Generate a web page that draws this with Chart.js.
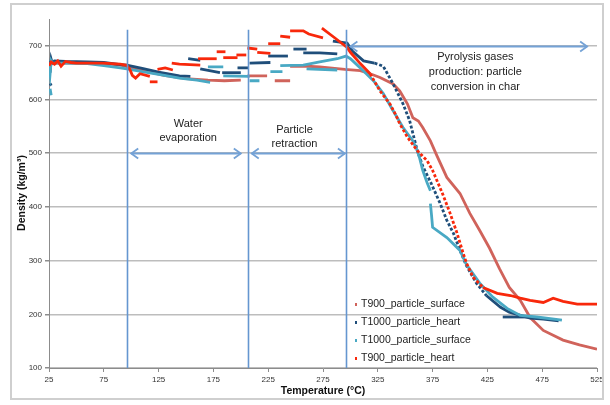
<!DOCTYPE html>
<html>
<head>
<meta charset="utf-8">
<script src="https://cdn.jsdelivr.net/npm/chart.js@4.4.1/dist/chart.umd.min.js"></script>
<style>
  html, body { margin: 0; padding: 0; background: #fff; }
  canvas { display: block; }
</style>
</head>
<body>
<canvas id="chart" width="610" height="405"></canvas>
<script>
// tick values
const xTicks = [25, 75, 125, 175, 225, 275, 325, 375, 425, 475, 525]
const yTicks = [100, 200, 300, 400, 500, 600, 700]

// null = break in the recorded trace
const t900SurfaceTemp = [25, 40, 60, 75, 90, 100, 115, 130, 150, 170, 185, 200, 203, 206, 215, 224, 228, 231, 245, 245, 245, 260, 272, 281, 295, 309, 318, 327, 339, 345, 352, 357, 362, 366, 373, 379, 388, 400, 409, 418, 427, 436, 445, 455, 464, 476, 485, 494, 509, 525]
const t900SurfaceRho = [668, 668, 668, 667, 664, 660, 652, 645, 639, 636, 635, 636, null, 644, 644, 644, null, 635, 635, null, 662, 662, 661, 659, 656, 654, 648, 641, 629, 616, 592, 566, 560, 548, 523, 495, 455, 425, 388, 356, 323, 285, 250, 226, 194, 170, 161, 152, 143, 135]

const t1000HeartTemp = [26, 27, 27, 25, 26, 27, 28, 30, 40, 60, 75, 90, 96, 110, 125, 144, 154, 154, 152, 163, 163, 163, 181, 182, 183, 200, 200, 197, 207, 207, 208, 227, 227, 225, 243, 245, 248, 260, 260, 257, 272, 288, 288, 284, 297, 302, 312, 322, 330, 339, 348, 354, 361, 366, 373, 382, 388, 394, 400, 406, 415, 424, 437, 445, 464, 476, 490, 490, 439, 464]
const t1000HeartRho = [630, 626, null, 672, 650, 675, 668, 672, 671, 670, 669, 665, 664, 658, 651, 644, 643, null, 676, 673, null, 657, 650, null, 650, 650, null, 659, 659, null, 668, 669, null, 681, 681, null, 694, 694, null, 687, 687, 685, null, 709, 705, 690, 672, 668, 662, 629, 592, 561, 505, 476, 447, 406, 375, 351, 319, 290, 258, 235, 213, 204, 193, 191, 188, null, 195, 195]

const t1000SurfaceTemp = [26, 27, 27, 25, 26, 27, 28, 40, 60, 75, 90, 96, 110, 125, 144, 160, 172, 172, 170, 184, 184, 184, 208, 208, 208, 217, 220, 227, 238, 238, 236, 257, 272, 288, 296, 300, 309, 321, 330, 339, 348, 357, 361, 363, 366, 370, 373, 373, 373, 374, 375, 388, 400, 406, 418, 430, 443, 455, 470, 493, 493, 260, 288]
const t1000SurfaceRho = [620, 608, null, 665, 648, 672, 668, 668, 667, 663, 659, 657, 652, 647, 640, 636, 632, null, 661, 661, null, 644, 643, null, 635, 635, null, 652, 652, null, 663, 664, 670, 676, 681, 676, 659, 635, 611, 579, 548, 523, 505, 492, 468, 445, 430, null, 406, 385, 362, 343, 319, 292, 258, 232, 211, 198, 195, 189, null, 657, 655]

const t900HeartTemp = [25, 27, 30, 33, 36, 40, 45, 50, 60, 75, 90, 96, 99, 101, 104, 108, 117, 117, 117, 124, 124, 124, 131, 138, 138, 137, 144, 163, 163, 161, 178, 178, 178, 186, 186, 184, 197, 197, 196, 205, 205, 206, 215, 215, 215, 227, 227, 225, 236, 236, 236, 245, 245, 245, 257, 262, 275, 275, 274, 285, 297, 300, 309, 318, 327, 336, 341, 345, 352, 361, 370, 375, 384, 391, 397, 403, 406, 412, 421, 434, 446, 455, 464, 476, 485, 494, 507, 525]
const t900HeartRho = [663, 670, 666, 672, 662, 671, 669, 668, 668, 668, 666, 664, 655, 645, 640, 648, 643, null, 633, 633, null, 656, 659, 655, null, 668, 666, 664, null, 676, 676, null, 689, 689, null, 678, 678, null, 683, 683, null, 696, 694, null, 688, 686, null, 704, 704, null, 718, 716, null, 728, 728, 722, 715, null, 733, 716, 697, 688, 667, 648, 616, 592, 573, 555, 530, 505, 486, 468, 425, 388, 353, 313, 295, 269, 250, 239, 235, 230, 226, 222, 230, 224, 219, 219]

const seriesNames = ['T900_particle_surface', 'T1000_particle_heart', 'T1000_particle_surface', 'T900_particle_heart']
const seriesColors = ['#D0635B', '#1F4E7A', '#49A9C4', '#F8280B']

// phases
const phaseLines = [96, 207, 296]
const phaseTop = 730
const phaseArrows = [
  { from: 100, to: 200, y: 500 },
  { from: 210, to: 295, y: 500 },
  { from: 300, to: 516, y: 700 },
]
const phaseLabels = [
  { x: 152, y: [555, 529], text: ['Water', 'evaporation'] },
  { x: 249, y: [544, 518], text: ['Particle', 'retraction'] },
  { x: 414, y: [680, 651, 623], text: ['Pyrolysis gases', 'production: particle', 'conversion in char'] },
]

const FONT = "'Liberation Sans Narrow', 'Liberation Sans', Arial, sans-serif"

function points(temps, rhos) {
  return temps.map((t, i) => ({ x: t, y: rhos[i] }))
}

const seriesData = [
  points(t900SurfaceTemp, t900SurfaceRho),
  points(t1000HeartTemp, t1000HeartRho),
  points(t1000SurfaceTemp, t1000SurfaceRho),
  points(t900HeartTemp, t900HeartRho),
]
const isHeart = [false, true, false, true]

function drawArrowHead(ctx, x, y, dir) {
  ctx.beginPath()
  ctx.moveTo(x - dir * 7, y - 5)
  ctx.lineTo(x, y)
  ctx.lineTo(x - dir * 7, y + 5)
  ctx.stroke()
}

const overlay = {
  id: 'overlay',
  afterDatasetsDraw(chart) {
    const { ctx, scales: { x, y } } = chart
    ctx.save()
    // phase separators
    ctx.strokeStyle = '#6596D0'
    ctx.lineWidth = 1.6
    phaseLines.forEach(t => {
      const px = Math.round(x.getPixelForValue(t)) + 0.5
      ctx.beginPath()
      ctx.moveTo(px, y.getPixelForValue(phaseTop))
      ctx.lineTo(px, y.getPixelForValue(100))
      ctx.stroke()
    })
    // arrows
    ctx.strokeStyle = '#74A2D6'
    ctx.lineWidth = 1.8
    phaseArrows.forEach(a => {
      const x1 = x.getPixelForValue(a.from)
      const x2 = x.getPixelForValue(a.to)
      const py = Math.round(y.getPixelForValue(a.y)) + 0.5
      ctx.beginPath()
      ctx.moveTo(x1, py)
      ctx.lineTo(x2, py)
      ctx.stroke()
      drawArrowHead(ctx, x1, py, -1)
      drawArrowHead(ctx, x2, py, 1)
    })
    // phase labels
    ctx.fillStyle = '#222'
    ctx.font = '11px ' + FONT
    ctx.textAlign = 'center'
    ctx.textBaseline = 'middle'
    phaseLabels.forEach(l => {
      l.text.forEach((s, i) => ctx.fillText(s, x.getPixelForValue(l.x), y.getPixelForValue(l.y[i])))
    })
    ctx.restore()
  },
  afterDraw(chart) {
    const { ctx, chartArea } = chart
    ctx.save()
    // outer frame
    ctx.strokeStyle = '#CFCFCF'
    ctx.lineWidth = 2
    ctx.strokeRect(11, 4, 592, 395)

    // legend
    ctx.font = '10.5px ' + FONT
    ctx.textAlign = 'left'
    ctx.textBaseline = 'middle'
    seriesNames.forEach((name, i) => {
      const ly = 304 + i * 18
      ctx.fillStyle = seriesColors[i]
      ctx.fillRect(355, ly - 1, 2, 3)
      ctx.fillStyle = '#222'
      ctx.fillText(name, 361, ly)
    })

    // axis titles
    ctx.font = 'bold 10.5px ' + FONT
    ctx.fillStyle = '#111'
    ctx.textAlign = 'center'
    ctx.fillText('Temperature (°C)', (chartArea.left + chartArea.right) / 2, 391)
    ctx.translate(22, 193)
    ctx.rotate(-Math.PI / 2)
    ctx.fillText('Density (kg/m³)', 0, 0)
    ctx.restore()
  },
}

new Chart(document.getElementById('chart'), {
  type: 'scatter',
  data: {
    datasets: seriesData.map((data, i) => ({
      label: seriesNames[i],
      data,
      showLine: true,
      spanGaps: false,
      borderColor: seriesColors[i],
      backgroundColor: seriesColors[i],
      borderWidth: 2.8,
      pointRadius: 0,
      order: 4 - i,
      segment: isHeart[i]
        ? { borderDash: c => (c.p0.parsed.x > 312 && c.p0.parsed.x < 420 ? [3, 2] : undefined) }
        : undefined,
    })),
  },
  options: {
    responsive: false,
    animation: false,
    events: [],
    layout: { padding: { top: 19, right: 13, left: 0, bottom: 0 } },
    plugins: {
      legend: { display: false },
      tooltip: { enabled: false },
    },
    scales: {
      x: {
        type: 'linear',
        min: 25,
        max: 525,
        afterFit: s => { s.height = 37 },
        afterBuildTicks: s => { s.ticks = xTicks.map(v => ({ value: v })) },
        grid: { drawOnChartArea: false, color: '#8C8C8C', tickLength: 4 },
        border: { color: '#8C8C8C', width: 1 },
        ticks: { color: '#333', font: { family: FONT, size: 8 }, padding: 3, maxRotation: 0 },
      },
      y: {
        type: 'linear',
        min: 100,
        max: 750,
        afterFit: s => { s.width = 49 },
        afterBuildTicks: s => { s.ticks = yTicks.map(v => ({ value: v })) },
        grid: { color: '#BDBDBD', lineWidth: 1.5, tickColor: '#8C8C8C', tickLength: 4 },
        border: { color: '#8C8C8C', width: 1 },
        ticks: { color: '#333', font: { family: FONT, size: 8 }, padding: 3 },
      },
    },
  },
  plugins: [overlay],
})
</script>
</body>
</html>
